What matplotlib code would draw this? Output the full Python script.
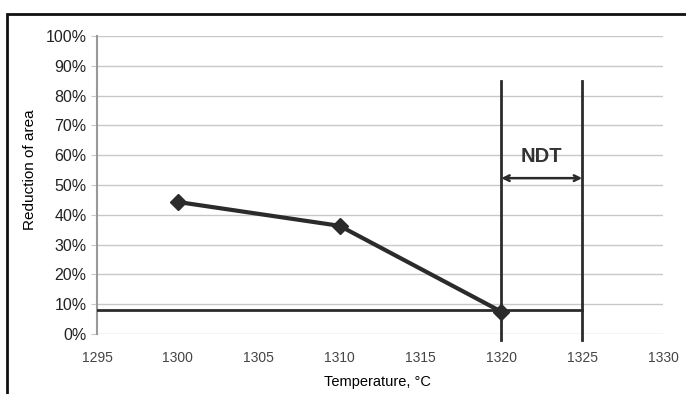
import matplotlib.pyplot as plt
from matplotlib.patches import Rectangle
from matplotlib.ticker import PercentFormatter

# data
temps = [1300, 1310, 1320]
reduction = [44.3, 36.3, 7.5]
ndt_level = 8.0
ndt_start, ndt_end = 1320, 1325
x_ticks = [1295, 1300, 1305, 1310, 1315, 1320, 1325, 1330]
y_ticks = list(range(0, 101, 10))

plt.rcParams['font.family'] = ['Liberation Sans', 'DejaVu Sans']

fig = plt.figure(figsize=(6.86, 3.94), dpi=100)
ax = fig.add_axes([0.1414, 0.1523, 0.9665 - 0.1414, 0.9086 - 0.1523])

# outer frame around the chart
fig.patches.append(Rectangle((7 / 686, -0.05), 1.0, 1 - 14 / 394 + 0.05,
                             transform=fig.transFigure, fill=False,
                             edgecolor='#111111', linewidth=2))

ax.set_xlim(1295, 1330)
ax.set_ylim(0, 100)
ax.set_xticks(x_ticks)
ax.set_yticks(y_ticks)
ax.yaxis.set_major_formatter(PercentFormatter(decimals=0))
ax.grid(axis='y', color='#c8c8c8', linewidth=1)
ax.set_axisbelow(True)
for s in ['top', 'right', 'bottom']:
    ax.spines[s].set_visible(False)
ax.spines['left'].set_color('#999999')
ax.spines['left'].set_linewidth(1.5)
ax.tick_params(axis='x', length=0, pad=12, labelsize=10, colors='#444444')
ax.tick_params(axis='y', length=4, color='#c8c8c8', labelsize=11.5, colors='#222222')

# NDT lines
ax.plot([1295, ndt_end], [ndt_level, ndt_level], color='#2b2b2b', lw=2, zorder=3)
for xv in (ndt_start, ndt_end):
    ax.plot([xv, xv], [-2, 85], color='#2b2b2b', lw=2, clip_on=False, zorder=3)
ax.annotate('', xy=(ndt_start, 52.3), xytext=(ndt_end, 52.3),
            arrowprops=dict(arrowstyle='<->', color='#2b2b2b', lw=1.8,
                            mutation_scale=10, shrinkA=0, shrinkB=0))
ax.text((ndt_start + ndt_end) / 2, 59.5, 'NDT', ha='center', va='center',
        fontsize=14.5, fontweight='bold', color='#333333')

# data series
ax.plot(temps, reduction, color='#2b2b2b', lw=3, marker='D', markersize=8,
        zorder=4, clip_on=False)

ax.set_xlabel('Temperature, °C', fontsize=10.5, va='center')
ax.xaxis.set_label_coords(0.495, -0.161)
ax.set_ylabel('Reduction of area', fontsize=11)
ax.yaxis.set_label_coords(-0.106, 0.55)

fig.savefig('out.png', dpi=100)
